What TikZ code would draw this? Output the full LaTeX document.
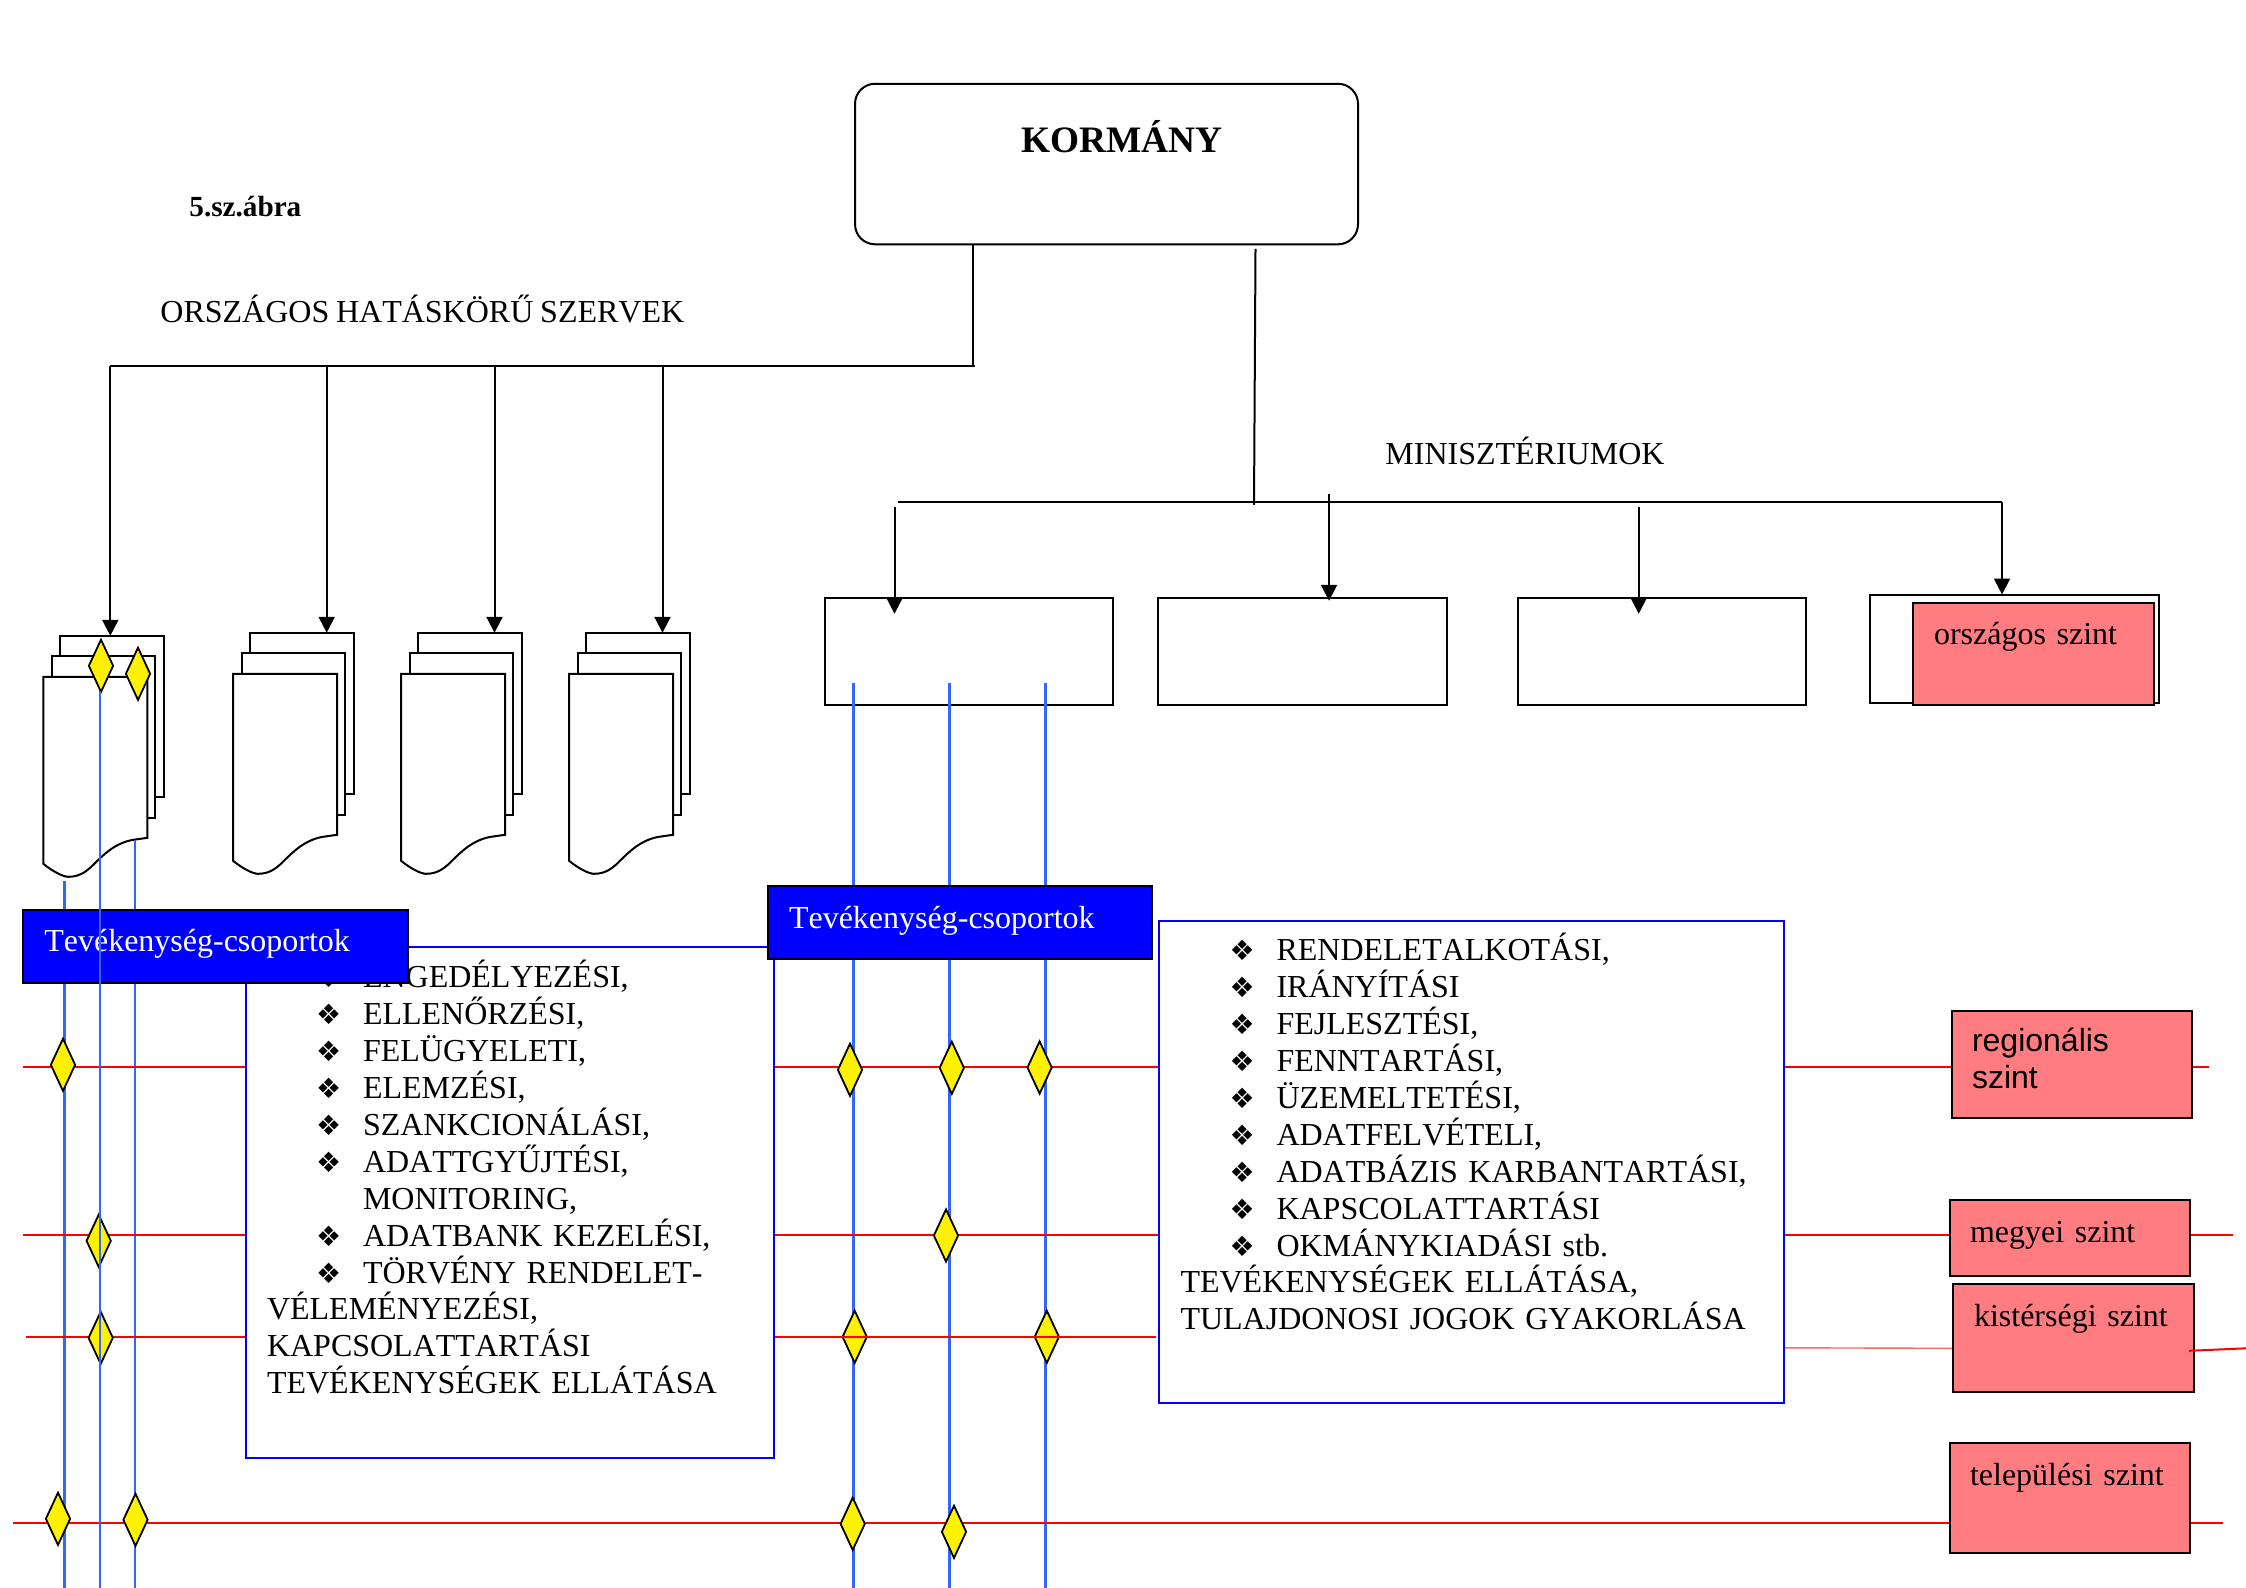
\documentclass[tikz,border=0pt]{standalone}
\usepackage{fontspec}
\setmainfont[Kerning=Off,WordSpace=0.85]{Liberation Serif}
\setsansfont{Liberation Sans}
\newfontfamily\dingfont{DejaVu Sans}
\usetikzlibrary{arrows.meta,shapes.geometric,calc}
\definecolor{lineblue}{HTML}{3366FF}
\definecolor{levelred}{HTML}{FF7C80}
\definecolor{palered}{HTML}{FF6666}
\tikzset{
  wire/.style={draw=black,line width=1pt},
  arr/.style={wire,-{Triangle[width=8pt,length=8pt]}},
  plainbox/.style={draw=black,line width=1pt,fill=white},
  bigbox/.style={draw=blue,line width=1pt,fill=white},
  labelbox/.style={draw=black,line width=1pt,fill=blue,text=white},
  levelbox/.style={draw=black,line width=1pt,fill=levelred},
  vline/.style={draw=lineblue,line width=1.2pt},
  rline/.style={draw=red,line width=1pt},
  pline/.style={draw=palered,line width=.7pt},
  gem/.style={diamond,draw=black,line width=.9pt,fill=yellow,inner sep=0pt,minimum width=12.5pt,minimum height=26.5pt},
  body/.style={font=\fontsize{16}{18.45}\selectfont},
}
\newcommand\bul{\makebox[48pt][l]{\hspace*{24.5pt}{\dingfont\fontsize{14}{14}\selectfont ❖}}}
% [style]{name}{x1}{y1}{x2}{y2}{text x}{first baseline}{text}
\newcommand\boxat[9][]{%
  \pgfmathsetmacro\bw{(#5-#3)*0.5}%
  \pgfmathsetmacro\bh{(#8-#4)*0.5}%
  \pgfmathsetmacro\bd{(#6-#8)*0.5}%
  \pgfmathsetmacro\bi{(#7-#3)*0.5}%
  \pgfmathsetmacro\bt{\bw-\bi}%
  \node[anchor=north west,inner sep=0pt,outer sep=0pt,body,align=left,text width=\bw pt,text height=\bh pt,text depth=\bd pt,#1] (#2) at (#3,#4) {\hspace*{\bi pt}\parbox[t]{\bt pt}{\raggedright #9}};%
}
\newcommand\docstack[3]{%
  \pgfmathsetmacro\xb{#2+17}\pgfmathsetmacro\yb{#3-41}\pgfmathsetmacro\xc{#2+120.5}\pgfmathsetmacro\yc{#3+120}%
  \boxat[plainbox]{#1b}{\xb}{\yb}{\xc}{\yc}{\xb}{\yc}{}%
  \pgfmathsetmacro\xb{#2+8.7}\pgfmathsetmacro\yb{#3-21}\pgfmathsetmacro\xc{#2+112}\pgfmathsetmacro\yc{#3+141}%
  \boxat[plainbox]{#1m}{\xb}{\yb}{\xc}{\yc}{\xb}{\yc}{}%
  \begin{scope}[shift={(#2,#3)}]
    \draw[wire,fill=white,line join=miter] (0,0) -- (104,0) -- (104,161) -- (90,163)
      .. controls (72,166) and (60,178) .. (50,188)
      .. controls (42,196) and (35,200) .. (25,200)
      .. controls (20,200) and (10,195) .. (0,187) -- cycle;
  \end{scope}%
}
\begin{document}
\begin{tikzpicture}[x=0.5pt,y=-0.5pt]
\useasboundingbox (0,-0.8) rectangle (2246,1587.2);
\fill[white] (0,-0.8) rectangle (2246,1587.2);

% named free ends
\coordinate (lb1a) at (64.3,880);  \coordinate (lb1b) at (64.3,1588);
\coordinate (lb3a) at (135,840);   \coordinate (lb3b) at (135,1588);
\coordinate (lb2a) at (100,690);   \coordinate (lb2b) at (100,1588);
\coordinate (rb1a) at (853.3,682); \coordinate (rb1b) at (853.3,1588);
\coordinate (rb2a) at (949.4,682); \coordinate (rb2b) at (949.4,1588);
\coordinate (rb3a) at (1045.5,682);\coordinate (rb3b) at (1045.5,1588);
\coordinate (r1a) at (23,1066.5);  \coordinate (r1b) at (2209,1066.5);
\coordinate (r2a) at (23,1234.5);  \coordinate (r2b) at (2232.7,1234.5);
\coordinate (r3a) at (26,1336);    \coordinate (r3b) at (246,1336);
\coordinate (r3c) at (775,1336);   \coordinate (r3d) at (1156,1336);
\coordinate (r3e) at (1784,1347);  \coordinate (r3f) at (1953,1347.5);
\coordinate (r3g) at (2189,1350);  \coordinate (r3h) at (2246,1347.5);
\coordinate (r4a) at (13,1522);    \coordinate (r4b) at (2222.7,1522);

% ministry boxes
\boxat[plainbox]{b1}{825}{597}{1113}{704}{825}{700}{}
\boxat[plainbox]{b2}{1158}{597}{1446.5}{704}{1158}{700}{}
\boxat[plainbox]{b3}{1518}{597}{1806}{704}{1518}{700}{}
\boxat[plainbox]{b4}{1870}{593.7}{2159}{701.7}{1870}{700}{}

% blue verticals behind the sheets and labels
\draw[vline] (lb1a) -- (lb1b);
\draw[vline] (lb3a) -- (lb3b);
\draw[vline] (rb1a) -- (rb1b);
\draw[vline] (rb2a) -- (rb2b);
\draw[vline] (rb3a) -- (rb3b);

% document stacks
\docstack{sa}{43.3}{676}
\docstack{sb}{233}{673}
\docstack{sc}{401}{673}
\docstack{sd}{569}{673}

% red level lines
\draw[rline] (r1a) -- (r1b);
\draw[rline] (r2a) -- (r2b);
\draw[rline] (r3a) -- (r3b);
\draw[pline] (r3e) -- (r3f);
\draw[rline,line width=1.2pt] (r4a) -- (r4b);

% diamonds
\node[gem] (g1) at (101,665) {};
\node[gem] (g2) at (138,673) {};
\node[gem] (g3) at (63,1064) {};
\node[gem] (g4) at (98.7,1240) {};
\node[gem] (g5) at (100.7,1337) {};
\node[gem] (g6) at (58,1518) {};
\node[gem] (g7) at (135.5,1519) {};
\node[gem] (g8) at (850,1069) {};
\node[gem] (g9) at (951.8,1067) {};
\node[gem] (g10) at (1039.6,1066.7) {};
\node[gem] (g11) at (946,1234.7) {};
\node[gem] (g12) at (854.7,1336) {};
\node[gem] (g13) at (1046.8,1336) {};
\node[gem] (g14) at (852.7,1523) {};
\node[gem] (g15) at (954,1531) {};
\draw[rline] (r3c) -- (r3d);

% text blocks
\boxat[bigbox]{t1}{246}{946}{774}{1457}{267}{987}{%
\bul ENGEDÉLYEZÉSI,\\
\bul ELLENŐRZÉSI,\\
\bul FELÜGYELETI,\\
\bul ELEMZÉSI,\\
\bul SZANKCIONÁLÁSI,\\
\bul ADATTGYŰJTÉSI,\\
\hspace*{48pt}MONITORING,\\
\bul ADATBANK KEZELÉSI,\\
\bul TÖRVÉNY RENDELET-\\
VÉLEMÉNYEZÉSI,\\
KAPCSOLATTARTÁSI\\
TEVÉKENYSÉGEK ELLÁTÁSA}
\boxat[bigbox]{t2}{1159}{920}{1784}{1402}{1180.5}{960}{%
\bul RENDELETALKOTÁSI,\\
\bul IRÁNYÍTÁSI\\
\bul FEJLESZTÉSI,\\
\bul FENNTARTÁSI,\\
\bul ÜZEMELTETÉSI,\\
\bul ADATFELVÉTELI,\\
\bul ADATBÁZIS KARBANTARTÁSI,\\
\bul KAPSCOLATTARTÁSI\\
\bul OKMÁNYKIADÁSI stb.\\
TEVÉKENYSÉGEK ELLÁTÁSA,\\
TULAJDONOSI JOGOK GYAKORLÁSA}

% blue labels
\boxat[labelbox]{l1}{23.3}{909}{408}{982}{44.3}{951}{Tevékenység-csoportok}
\boxat[labelbox]{l2}{767.5}{885}{1152}{957.7}{789}{928}{Tevékenység-csoportok}

% level boxes
\boxat[levelbox]{v0}{1913}{602}{2153.7}{704}{1934}{644}{országos szint}
\boxat[levelbox,font=\sffamily\fontsize{16}{18.45}\selectfont]{v1}{1952}{1010}{2192}{1117}{1972}{1051}{regionális\\szint}
\boxat[levelbox]{v2}{1950}{1199}{2190}{1275}{1970}{1241.5}{megyei szint}
\boxat[levelbox]{v3}{1953}{1283}{2193.7}{1391}{1974}{1325.5}{kistérségi szint}
\boxat[levelbox]{v4}{1950}{1442}{2190}{1552}{1970}{1484.5}{települési szint}
\draw[rline] (r3g) -- (r3h);

% blue vertical drawn on top
\draw[vline] (lb2a) -- (lb2b);

% government box and wiring
\boxat[plainbox,rounded corners=10pt]{k}{855}{83}{1358}{243.5}{1021}{152}{\bfseries\fontsize{18.67}{20}\selectfont KORMÁNY}
\coordinate (kl) at (973,365);
\coordinate (klr) at (975,365);
\coordinate (kr1) at (1255.5,248);
\coordinate (kr2) at (1254,504);
\coordinate (hl) at (110.3,365);
\coordinate (hb) at (326.7,365);
\coordinate (hc) at (494.5,365);
\coordinate (hd) at (662.5,365);
\coordinate (ml) at (897.5,501.5);
\coordinate (mr) at (2002,501.5);
\coordinate (a1s) at (894.5,506); \coordinate (a1e) at (894.5,613);
\coordinate (a2s) at (1329,493);  \coordinate (a2e) at (1329,600);
\coordinate (a3s) at (1638.7,506);\coordinate (a3e) at (1638.7,613);
\draw[wire] (kl |- k.south) -- (kl);
\draw[wire] (hl) -- (klr);
\draw[arr] (hl) -- (hl |- sab.north);
\draw[arr] (hb) -- (hb |- sbb.north);
\draw[arr] (hc) -- (hc |- scb.north);
\draw[arr] (hd) -- (hd |- sdb.north);
\draw[wire] (kr1) -- (kr2);
\draw[wire] (ml) -- (mr);
\draw[arr] (a1s) -- (a1e);
\draw[arr] (a2s) -- (a2e);
\draw[arr] (a3s) -- (a3e);
\draw[arr] (mr) -- (mr |- b4.north);

% captions
\node[anchor=base west,inner sep=0pt,font=\bfseries\fontsize{14.6}{16}\selectfont] (cap) at (189,216) {5.sz.ábra};
\node[anchor=base west,inner sep=0pt,body] (oh) at (160,322) {ORSZÁGOS HATÁSKÖRŰ SZERVEK};
\node[anchor=base west,inner sep=0pt,body] (mn) at (1385,464) {MINISZTÉRIUMOK};
\end{tikzpicture}
\end{document}
